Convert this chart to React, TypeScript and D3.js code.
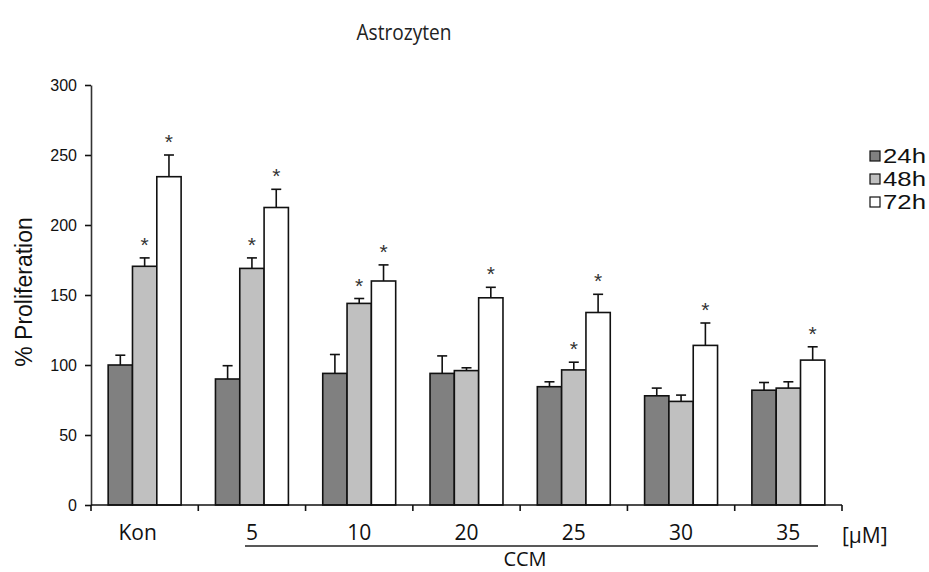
import { useEffect, useRef } from "react";
import * as d3 from "d3";

// groups on the x axis
const categories = ["Kon", "5", "10", "20", "25", "30", "35"];
const series = ["24h", "48h", "72h"];

// mean values per series
const values24 = [100, 90, 94, 94, 84.5, 78, 82];
const values48 = [170.5, 169, 144, 96, 96.5, 74, 83.5];
const values72 = [234.5, 212.5, 160, 148, 137.5, 114, 103.5];

// top of the error bars
const err24 = [107, 99.5, 107.5, 106.5, 88, 83.5, 87.5];
const err48 = [176.5, 176.5, 147.5, 98, 102, 78.5, 88];
const err72 = [250, 225.5, 171.5, 155.5, 150.5, 130, 113];

// significance marks
const stars48 = [true, true, true, false, true, false, false];
const stars72 = [true, true, true, true, true, true, true];

const yTicks = [0, 50, 100, 150, 200, 250, 300];
const colors = ["#808080", "#c0c0c0", "#ffffff"];

const App = () => {
  const svgRef = useRef<SVGSVGElement | null>(null);

  useEffect(() => {
    const width = 929;
    const height = 572;
    const margin = { top: 85, right: 87, bottom: 67, left: 91 };
    const svg = d3.select(svgRef.current);
    svg.attr("width", width).attr("height", height);
    svg.selectAll("*").remove();

    const myriad = "'Open Sans', 'Noto Sans', sans-serif";
    const arial = "'Liberation Sans', Arial, sans-serif";

    const x = d3
      .scaleBand()
      .domain(categories)
      .range([margin.left, width - margin.right])
      .padding(0);
    const gw = x.bandwidth();
    const xi = d3
      .scaleBand()
      .domain(series)
      .range([gw * 0.16, gw * 0.84])
      .padding(0);
    const y = d3
      .scaleLinear()
      .domain([0, 300])
      .range([height - margin.bottom, margin.top]);

    const rows = categories.map((c, i) => ({
      cat: c,
      bars: [
        { s: "24h", v: values24[i], e: err24[i], star: false },
        { s: "48h", v: values48[i], e: err48[i], star: stars48[i] },
        { s: "72h", v: values72[i], e: err72[i], star: stars72[i] },
      ],
    }));

    // title
    svg
      .append("text")
      .attr("x", 404)
      .attr("y", 40)
      .attr("text-anchor", "middle")
      .attr("font-family", myriad)
      .attr("font-size", 22)
      .attr("textLength", 95)
      .attr("lengthAdjust", "spacingAndGlyphs")
      .attr("fill", "#222")
      .text("Astrozyten");

    // bars
    const groups = svg
      .append("g")
      .selectAll("g")
      .data(rows)
      .enter()
      .append("g")
      .attr("transform", (d) => `translate(${x(d.cat)},0)`);

    groups
      .selectAll("rect")
      .data((d) => d.bars)
      .enter()
      .append("rect")
      .attr("x", (d) => xi(d.s)!)
      .attr("y", (d) => y(d.v))
      .attr("width", xi.bandwidth())
      .attr("height", (d) => y(0) - y(d.v))
      .attr("fill", (d, i) => colors[i])
      .attr("stroke", "#111")
      .attr("stroke-width", 1.6);

    // error bars (upper half only)
    const eb = groups
      .selectAll("g.err")
      .data((d) => d.bars)
      .enter()
      .append("g")
      .attr("class", "err")
      .attr("stroke", "#111")
      .attr("stroke-width", 1.6);
    eb.append("line")
      .attr("x1", (d) => xi(d.s)! + xi.bandwidth() / 2)
      .attr("x2", (d) => xi(d.s)! + xi.bandwidth() / 2)
      .attr("y1", (d) => y(d.v))
      .attr("y2", (d) => y(d.e));
    eb.append("line")
      .attr("x1", (d) => xi(d.s)! + xi.bandwidth() / 2 - 5)
      .attr("x2", (d) => xi(d.s)! + xi.bandwidth() / 2 + 5)
      .attr("y1", (d) => y(d.e))
      .attr("y2", (d) => y(d.e));

    // asterisks
    groups
      .selectAll("text.star")
      .data((d) => d.bars.filter((b) => b.star))
      .enter()
      .append("text")
      .attr("class", "star")
      .attr("x", (d) => xi(d.s)! + xi.bandwidth() / 2)
      .attr("y", (d) => y(d.e) - 6)
      .attr("text-anchor", "middle")
      .attr("font-family", arial)
      .attr("font-size", 21)
      .attr("fill", "#333")
      .text("*");

    // y axis
    const yAxis = svg
      .append("g")
      .attr("transform", `translate(${margin.left},0)`)
      .call(d3.axisLeft(y).tickValues(yTicks).tickSize(6).tickSizeOuter(0));
    yAxis.select(".domain").attr("stroke", "#333").attr("stroke-width", 1.6);
    yAxis.selectAll(".tick line").attr("stroke", "#111").attr("stroke-width", 1.6);
    yAxis
      .selectAll(".tick text")
      .attr("font-family", arial)
      .attr("font-size", 16)
      .attr("fill", "#111")
      .attr("x", -14);

    // x axis with ticks on group boundaries
    const base = y(0);
    const xg = svg.append("g").attr("stroke", "#111").attr("stroke-width", 1.6);
    xg.append("line")
      .attr("x1", margin.left)
      .attr("x2", width - margin.right)
      .attr("y1", base)
      .attr("y2", base);
    const bounds = categories.map((c) => x(c)!).concat([x(categories[categories.length - 1])! + gw]);
    xg.selectAll("line.tk")
      .data(bounds)
      .enter()
      .append("line")
      .attr("class", "tk")
      .attr("x1", (d) => d)
      .attr("x2", (d) => d)
      .attr("y1", base)
      .attr("y2", base + 6);

    svg
      .append("g")
      .selectAll("text")
      .data(categories)
      .enter()
      .append("text")
      .attr("x", (d) => x(d)! + gw / 2 - (d === "Kon" ? 7 : 0))
      .attr("y", 540)
      .attr("text-anchor", "middle")
      .attr("font-family", myriad)
      .attr("font-size", 21)
      .attr("fill", "#111")
      .text((d) => d);

    svg
      .append("text")
      .attr("x", 842)
      .attr("y", 543)
      .attr("font-family", myriad)
      .attr("font-size", 21)
      .attr("fill", "#111")
      .text("[µM]");

    svg
      .append("line")
      .attr("x1", 245)
      .attr("x2", 818)
      .attr("y1", 546)
      .attr("y2", 546)
      .attr("stroke", "#222")
      .attr("stroke-width", 1.4);

    svg
      .append("text")
      .attr("x", 525)
      .attr("y", 566)
      .attr("text-anchor", "middle")
      .attr("font-family", myriad)
      .attr("font-size", 20)
      .attr("fill", "#111")
      .text("CCM");

    // y label
    svg
      .append("text")
      .attr("transform", `translate(32,292) rotate(-90)`)
      .attr("text-anchor", "middle")
      .attr("font-family", arial)
      .attr("font-size", 23)
      .attr("fill", "#111")
      .text("% Proliferation");

    // legend
    const lg = svg
      .append("g")
      .selectAll("g")
      .data(series)
      .enter()
      .append("g")
      .attr("transform", (d, i) => `translate(870,${151 + i * 23})`);
    lg.append("rect")
      .attr("width", 10)
      .attr("height", 10)
      .attr("fill", (d, i) => colors[i])
      .attr("stroke", "#111")
      .attr("stroke-width", 1.2);
    lg.append("text")
      .attr("x", 13)
      .attr("y", 12)
      .attr("font-family", arial)
      .attr("font-size", 21)
      .attr("textLength", 43)
      .attr("lengthAdjust", "spacingAndGlyphs")
      .attr("fill", "#111")
      .text((d) => d);
  }, []);

  return (
    <svg
      ref={svgRef}
      style={{ position: "absolute", left: 0, top: 0, background: "#fff" }}
    ></svg>
  );
};

export default App;
